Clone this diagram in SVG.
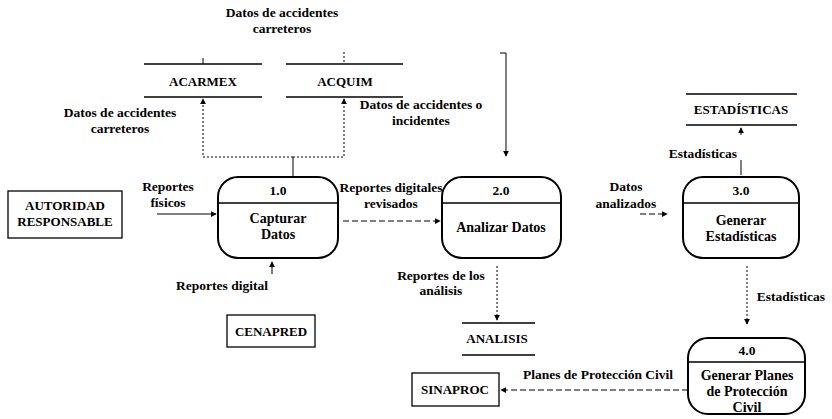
<svg xmlns="http://www.w3.org/2000/svg" width="832" height="419" viewBox="0 0 832 419">
<defs>
<marker id="ah" viewBox="0 0 8 8" refX="7" refY="4" markerWidth="6" markerHeight="6" orient="auto-start-reverse">
<path d="M0,0 L8,4 L0,8 z" fill="#000"/>
</marker>
<style>
text{font-family:"Liberation Serif","Times New Roman",serif;fill:#000;text-anchor:middle}
.lbl{font-size:13.5px;font-weight:bold}
.nm{font-size:13px;font-weight:bold}
.pt{font-size:14px;font-weight:bold}
.ext{font-size:13px;font-weight:bold}
.box{fill:#fff;stroke:#000;stroke-width:1.3}
.proc{fill:#fff;stroke:#000;stroke-width:2}
.st{stroke:#000;stroke-width:1.3}
.c{fill:none;stroke:#000;stroke-width:1}
.d{fill:none;stroke:#000;stroke-width:1;stroke-dasharray:6 3}
.o{fill:none;stroke:#000;stroke-width:1;stroke-dasharray:2 2}
</style>
</defs>
<rect width="832" height="419" fill="#fff"/>

<g id="connectors">
<path class="c" d="M157,214 H216" marker-end="url(#ah)"/>
<path class="d" d="M343,221 H440" marker-end="url(#ah)"/>
<path class="c" d="M506,53 V156" marker-end="url(#ah)"/>
<path class="c" d="M500,53 H506"/>
<path class="c" d="M293,176 V157"/>
<path class="o" d="M293,157 H203 V99" marker-end="url(#ah)"/>
<path class="o" d="M293,157 H344 V99" marker-end="url(#ah)"/>
<path class="c" d="M203,58 V64"/>
<path class="o" d="M344,52 V64"/>
<path class="c" d="M272,274 V262" marker-end="url(#ah)"/>
<path class="o" d="M497,266 V320" marker-end="url(#ah)"/>
<path class="d" d="M640,214 H667" marker-end="url(#ah)"/>
<path class="c" d="M741,175 V160"/>
<path class="c" d="M741,135 V128" marker-end="url(#ah)"/>
<path class="o" d="M747,266 V324" marker-end="url(#ah)"/>
<path class="d" d="M688,390 H501" marker-end="url(#ah)"/>
</g>

<g id="autoridad">
<rect class="box" x="8" y="191" width="114" height="47"/>
<text class="ext" x="65" y="210">AUTORIDAD</text>
<text class="ext" x="65" y="226">RESPONSABLE</text>
</g>

<g id="p1">
<rect class="proc" x="218" y="177" width="120" height="81" rx="20"/>
<line class="st" x1="218" y1="203" x2="338" y2="203"/>
<text class="lbl" x="278" y="195">1.0</text>
<text class="pt" x="278" y="223">Capturar</text>
<text class="pt" x="278" y="239">Datos</text>
</g>

<g id="p2">
<rect class="proc" x="442" y="177" width="119" height="81" rx="20"/>
<line class="st" x1="442" y1="203" x2="561" y2="203"/>
<text class="lbl" x="501" y="195">2.0</text>
<text class="pt" x="501" y="232">Analizar Datos</text>
</g>

<g id="p3">
<rect class="proc" x="683" y="177" width="116" height="81" rx="20"/>
<line class="st" x1="683" y1="203" x2="799" y2="203"/>
<text class="lbl" x="741" y="195">3.0</text>
<text class="pt" x="741" y="225">Generar</text>
<text class="pt" x="741" y="241">Estadísticas</text>
</g>

<g id="p4">
<rect class="proc" x="688" y="338" width="117" height="76" rx="20"/>
<line class="st" x1="688" y1="362" x2="805" y2="362"/>
<text class="lbl" x="747" y="355">4.0</text>
<text class="pt" x="747" y="380">Generar Planes</text>
<text class="pt" x="747" y="396">de Protección</text>
<text class="pt" x="747" y="412">Civil</text>
</g>

<g id="acarmex">
<line class="st" x1="144" y1="64" x2="262" y2="64"/>
<line class="st" x1="144" y1="97" x2="262" y2="97"/>
<text class="nm" x="203" y="86">ACARMEX</text>
</g>

<g id="acquim">
<line class="st" x1="286" y1="64" x2="403" y2="64"/>
<line class="st" x1="286" y1="97" x2="403" y2="97"/>
<text class="nm" x="345" y="86">ACQUIM</text>
</g>

<g id="estadisticas">
<line class="st" x1="686" y1="94" x2="797" y2="94"/>
<line class="st" x1="686" y1="125" x2="797" y2="125"/>
<text class="nm" x="741" y="114">ESTADÍSTICAS</text>
</g>

<g id="analisis">
<line class="st" x1="462" y1="323" x2="535" y2="323"/>
<line class="st" x1="462" y1="355" x2="535" y2="355"/>
<text class="nm" x="497" y="343">ANALISIS</text>
</g>

<g id="cenapred">
<rect class="box" x="227" y="315" width="88" height="32"/>
<text class="ext" x="271" y="336">CENAPRED</text>
</g>

<g id="sinaproc">
<rect class="box" x="412" y="373" width="87" height="33"/>
<text class="ext" x="455" y="394">SINAPROC</text>
</g>

<g id="labels">
<text class="lbl" x="282" y="17">Datos de accidentes</text>
<text class="lbl" x="282" y="33">carreteros</text>
<text class="lbl" x="120" y="117">Datos de accidentes</text>
<text class="lbl" x="120" y="133">carreteros</text>
<text class="lbl" x="421" y="109">Datos de accidentes o</text>
<text class="lbl" x="421" y="125">incidentes</text>
<text class="lbl" x="168" y="191">Reportes</text>
<text class="lbl" x="168" y="207">físicos</text>
<text class="lbl" x="391" y="192">Reportes digitales</text>
<text class="lbl" x="391" y="208">revisados</text>
<text class="lbl" x="222" y="290">Reportes digital</text>
<text class="lbl" x="441" y="280">Reportes de los</text>
<text class="lbl" x="441" y="295">análisis</text>
<text class="lbl" x="626" y="191">Datos</text>
<text class="lbl" x="626" y="208">analizados</text>
<text class="lbl" x="703" y="158">Estadísticas</text>
<text class="lbl" x="791" y="301">Estadísticas</text>
<text class="lbl" x="598" y="379">Planes de Protección Civil</text>
</g>
</svg>
